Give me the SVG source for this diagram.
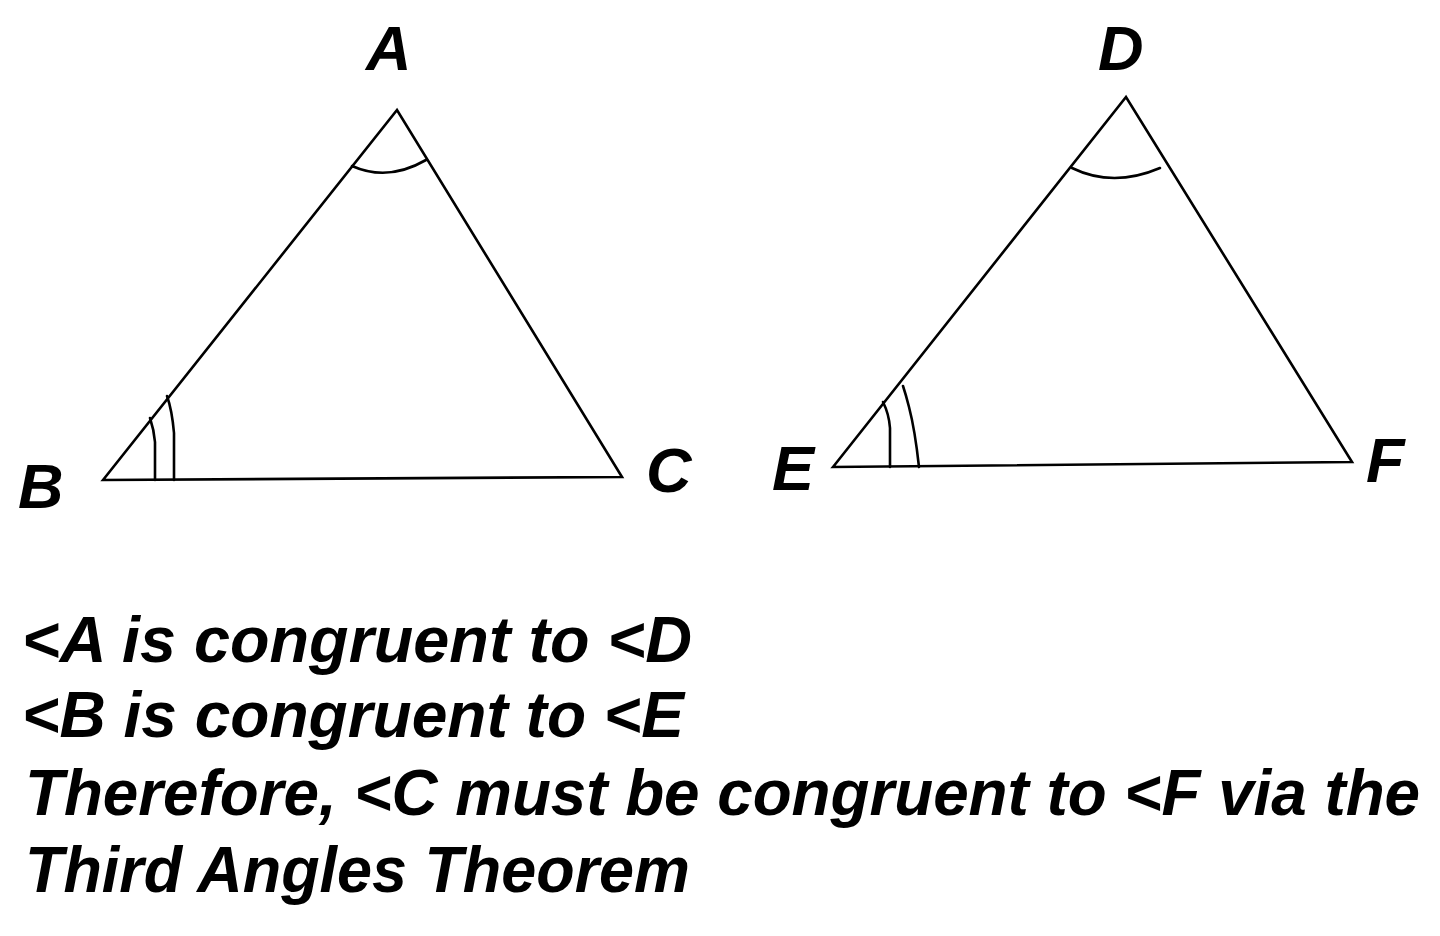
<svg xmlns="http://www.w3.org/2000/svg" width="1440" height="936" viewBox="0 0 1440 936">
<style>
.ln{fill:none;stroke:#000;stroke-width:2.6;stroke-linejoin:miter;stroke-linecap:round}
.lbl{font-family:"Liberation Sans",Arial,sans-serif;font-weight:bold;font-style:italic;font-size:63px;fill:#000}
.txt{font-family:"Liberation Sans",Arial,sans-serif;font-weight:bold;font-style:italic;font-size:64px;fill:#000}
</style>
<rect width="1440" height="936" fill="#fff"/>
<g id="triangle-ABC">
<path class="ln" d="M103,480 L397,110 L622,477 Z"/>
<path class="ln" d="M352,166 Q388,182 426,160"/>
<path class="ln" d="M155,480 L155,442 Q154,430 150,418"/>
<path class="ln" d="M174,480 L174,433 Q172,410 167,396"/>
</g>
<g id="triangle-DEF">
<path class="ln" d="M833,467 L1126,97 L1352,462 Z"/>
<path class="ln" d="M1072,168 Q1113,188 1160,168"/>
<path class="ln" d="M890,467 L890,428 Q889,414 883,402"/>
<path class="ln" d="M919,467 Q915,430 909,407 Q906,395 903,386"/>
</g>
<g id="labels">
<text class="lbl" x="366" y="70">A</text>
<text class="lbl" x="1098" y="70">D</text>
<text class="lbl" x="18" y="508">B</text>
<text class="lbl" x="646" y="492">C</text>
<text class="lbl" x="772" y="490">E</text>
<text class="lbl" x="1366" y="482">F</text>
</g>
<g id="statement">
<text class="txt" x="22" y="662" textLength="670" lengthAdjust="spacingAndGlyphs">&lt;A is congruent to &lt;D</text>
<text class="txt" x="22" y="737" textLength="662" lengthAdjust="spacingAndGlyphs">&lt;B is congruent to &lt;E</text>
<text class="txt" x="25" y="815" textLength="1395" lengthAdjust="spacingAndGlyphs">Therefore, &lt;C must be congruent to &lt;F via the</text>
<text class="txt" x="25" y="892" textLength="665" lengthAdjust="spacingAndGlyphs">Third Angles Theorem</text>
</g>
</svg>
